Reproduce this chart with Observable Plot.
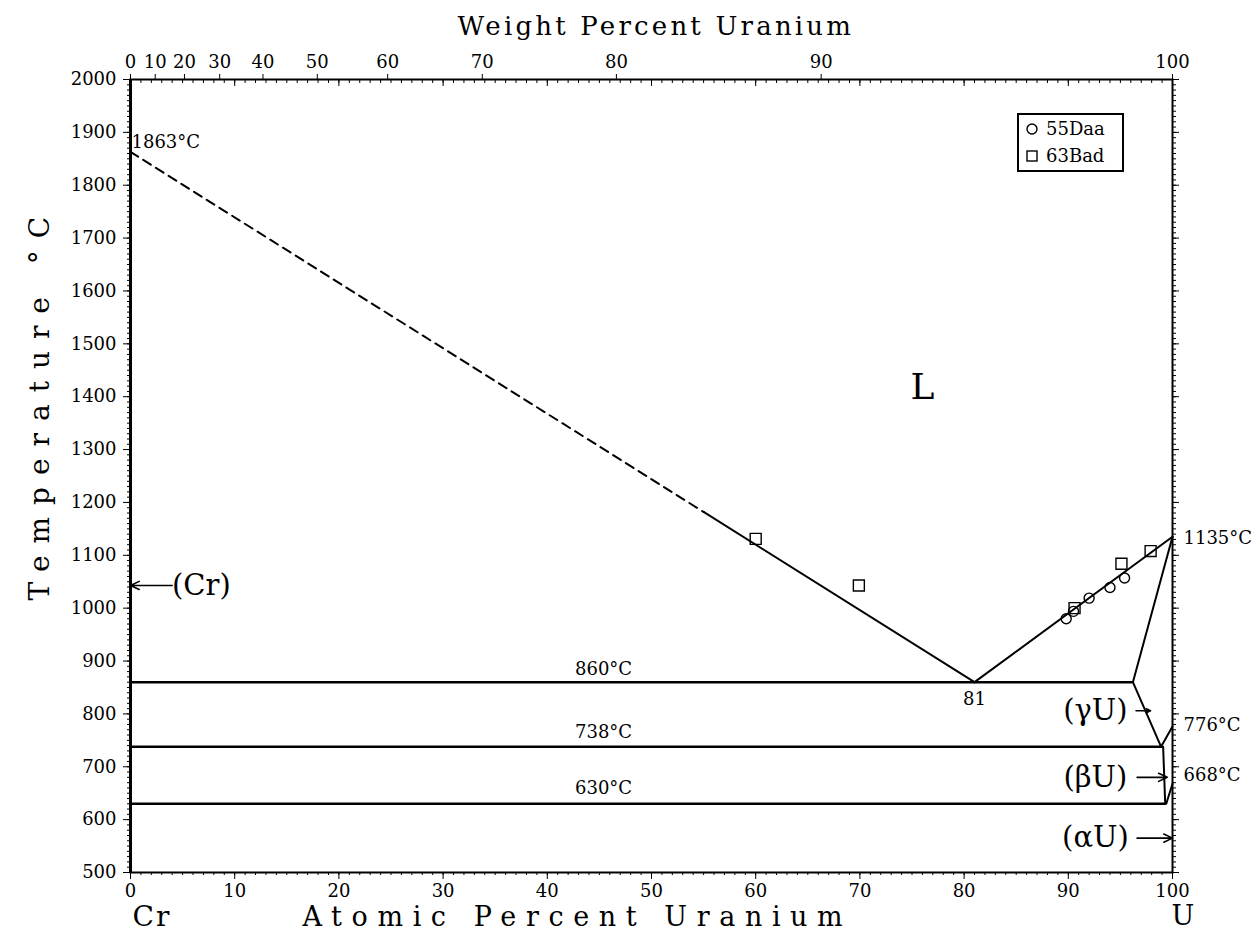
<!DOCTYPE html>
<html><head><meta charset="utf-8">
<script src="https://cdn.jsdelivr.net/npm/d3@7"></script>
<script src="https://cdn.jsdelivr.net/npm/@observablehq/plot@0.6"></script>
<style>
body{margin:0;background:#fff;}
#wrap{position:relative;width:1255px;height:940px;}
#legend{position:absolute;left:1017px;top:113px;width:103px;height:55px;border:2px solid #000;background:#fff;font-family:"DejaVu Serif",serif;font-size:18px;line-height:27px;}
#legend div{display:flex;align-items:center;padding-left:7px;height:27px;}
#legend svg{margin-right:8px;}
</style></head><body><div id="wrap"><div id="legend">
<div><svg width="12" height="12"><circle cx="6" cy="6" r="5" fill="none" stroke="#000" stroke-width="1.4"/></svg>55Daa</div>
<div><svg width="12" height="12"><rect x="1" y="1" width="10" height="10" fill="none" stroke="#000" stroke-width="1.4"/></svg>63Bad</div>
</div></div>
<script>
// ---------- data (atomic % U, temperature °C) ----------
const atPctMajor = d3.range(0, 101, 10);
const atPctMinor = d3.range(0, 101, 1);
const wtPctLabels = [0, 10, 20, 30, 40, 50, 60, 70, 80, 90, 100];
const tempMajor = d3.range(500, 2001, 100);
const tempMinor = d3.range(500, 2001, 10);
const massU = 238.03, massCr = 51.996;

const liquidusCrDashed = [[0, 1863], [55, 1182]];
const liquidusCrSolid = [[55, 1182], [81, 860]];
const liquidusU = [[81, 860], [100, 1135]];
const solidusGammaU = [[96.2, 860], [100, 1135]];
const solvusGammaU = [[96.2, 860], [98.9, 738]];
const gammaBetaU = [[98.9, 738], [100, 776]];
const solvusBetaU = [[99.1, 738], [99.3, 630]];
const betaAlphaU = [[99.4, 630], [100, 668]];
const isotherms = [
  {t: 860, from: 0, to: 96.2},
  {t: 738, from: 0, to: 99.1},
  {t: 630, from: 0, to: 99.4}
];
const data55Daa = [[89.8, 980], [90.5, 994], [92.0, 1019], [94.0, 1039], [95.4, 1057]];
const data63Bad = [[60.0, 1131], [69.9, 1043], [90.6, 1000], [95.1, 1084], [97.9, 1108]];

const leftTempLabel = [{x: 0, y: 1882, text: "1863°C"}];
const isothermLabels = [
  {x: 45.4, y: 884, text: "860°C"},
  {x: 45.4, y: 766, text: "738°C"},
  {x: 45.4, y: 660, text: "630°C"},
  {x: 81, y: 828, text: "81"}
];
const rightTempLabels = [
  {x: 100, y: 1133, text: "1135°C"},
  {x: 100, y: 778, text: "776°C"},
  {x: 100, y: 684, text: "668°C"}
];
const phaseLabels = [
  {x: 6.8, y: 1043, text: "(Cr)"},
  {x: 92.6, y: 806, text: "(γU)"},
  {x: 92.6, y: 680, text: "(βU)"},
  {x: 92.6, y: 565, text: "(αU)"}
];
const phaseArrows = [
  {x1: 4.0, y1: 1043, x2: 0, y2: 1043},
  {x1: 96.5, y1: 806, x2: 97.9, y2: 806},
  {x1: 96.6, y1: 680, x2: 99.5, y2: 680},
  {x1: 96.6, y1: 565, x2: 100, y2: 565}
];

// weight % -> atomic % (axis conversion)
const wtToAt = w => { const nU = w / massU, nCr = (100 - w) / massCr; return 100 * nU / (nU + nCr); };
const wtTickPos = wtPctLabels.map(wtToAt);
const wtLabel = d => { const i = d3.minIndex(wtTickPos, p => Math.abs(p - d)); return String(wtPctLabels[i]); };

const pts = a => a.map(([x, y]) => ({x, y}));
const lineOpts = {x: "x", y: "y", stroke: "black", strokeWidth: 2};
const serif = "DejaVu Serif";
const blank = () => "";

const chart = Plot.plot({
  width: 1255, height: 940,
  marginLeft: 130, marginRight: 83, marginTop: 79, marginBottom: 68,
  x: {domain: [0, 100], axis: null},
  y: {domain: [500, 2000], axis: null},
  style: {fontFamily: serif, fontSize: "18px", color: "black", background: "white"},
  marks: [
    // axes
    Plot.axisX(atPctMajor, {anchor: "bottom", tickSize: 7, tickPadding: 5, tickFormat: d => String(d), label: null, fontSize: 18}),
    Plot.axisX(atPctMinor, {anchor: "bottom", tickSize: 3, tickFormat: blank, label: null}),
    Plot.axisX(atPctMajor, {anchor: "top", tickSize: -6, tickFormat: blank, label: null}),
    Plot.axisX(atPctMinor, {anchor: "top", tickSize: -3, tickFormat: blank, label: null}),
    Plot.axisX(wtTickPos, {anchor: "top", tickSize: 6, tickPadding: 6, tickFormat: wtLabel, label: null, fontSize: 18}),
    Plot.axisY(tempMajor, {anchor: "left", tickSize: 7, tickPadding: 7, tickFormat: d => String(d), label: null, fontSize: 18}),
    Plot.axisY(tempMinor, {anchor: "left", tickSize: 3, tickFormat: blank, label: null}),
    Plot.axisY(tempMajor, {anchor: "right", tickSize: 6, tickFormat: blank, label: null}),
    Plot.axisY(tempMinor, {anchor: "right", tickSize: 3, tickFormat: blank, label: null}),
    Plot.frame({stroke: "black", strokeWidth: 2}),
    Plot.ruleX([0], {stroke: "black", strokeWidth: 3}),
    // axis titles (start-anchored so the wide letter spacing keeps its place)
    Plot.text(["Weight Percent Uranium"], {frameAnchor: "top-left", dx: 327, dy: -63, textAnchor: "start", fontSize: 26, fill: "black"}),
    Plot.text(["Atomic Percent Uranium"], {frameAnchor: "bottom-left", dx: 172, dy: 53, textAnchor: "start", fontSize: 27, fill: "black"}),
    Plot.text(["Cr"], {x: [0], frameAnchor: "bottom", dy: 53, dx: 2, textAnchor: "start", fontSize: 28, fill: "black"}),
    Plot.text(["U"], {x: [100], frameAnchor: "bottom", dy: 52, dx: -1, textAnchor: "start", fontSize: 27, fill: "black"}),
    Plot.text(["Temperature °C"], {frameAnchor: "bottom-left", dx: -82, dy: -272, rotate: -90, textAnchor: "start", fontSize: 28, fill: "black"}),
    // phase boundaries
    Plot.line(pts(liquidusCrDashed), {...lineOpts, strokeDasharray: "9,6"}),
    Plot.line(pts(liquidusCrSolid), lineOpts),
    Plot.line(pts(liquidusU), lineOpts),
    Plot.line(pts(solidusGammaU), lineOpts),
    Plot.line(pts(solvusGammaU), lineOpts),
    Plot.line(pts(gammaBetaU), lineOpts),
    Plot.line(pts(solvusBetaU), lineOpts),
    Plot.line(pts(betaAlphaU), lineOpts),
    Plot.ruleY(isotherms, {y: "t", x1: "from", x2: "to", stroke: "black", strokeWidth: 2.5}),
    // experimental data
    Plot.dot(pts(data55Daa), {x: "x", y: "y", r: 5, stroke: "black", strokeWidth: 1.4, fill: "none"}),
    Plot.dot(pts(data63Bad), {x: "x", y: "y", symbol: "square", r: 6.2, stroke: "black", strokeWidth: 1.4, fill: "none"}),
    // labels
    Plot.text(leftTempLabel, {x: "x", y: "y", text: "text", textAnchor: "start", dx: 1, fontSize: 18, fill: "black"}),
    Plot.text(isothermLabels, {x: "x", y: "y", text: "text", fontSize: 18, fill: "black"}),
    Plot.text(rightTempLabels, {x: "x", y: "y", text: "text", textAnchor: "start", dx: 11, fontSize: 18, fill: "black"}),
    Plot.text(["L"], {x: [76], y: [1417], fontSize: 36, fill: "black"}),
    Plot.text(phaseLabels, {x: "x", y: "y", text: "text", fontSize: 29, fill: "black"}),
    Plot.arrow(phaseArrows, {x1: "x1", y1: "y1", x2: "x2", y2: "y2", stroke: "black", strokeWidth: 1.6, headLength: 9, headAngle: 50})
  ]
});
// widen the letter spacing of the axis titles, as in the reference
const spacing = {"Weight Percent Uranium": 3.2, "Atomic Percent Uranium": 9.6, "Temperature °C": 12, "Cr": 2};
d3.select(chart).selectAll("text").each(function() {
  const s = spacing[this.textContent];
  if (s !== undefined) this.setAttribute("letter-spacing", s);
});
document.getElementById("wrap").prepend(chart);
</script>
</body></html>
